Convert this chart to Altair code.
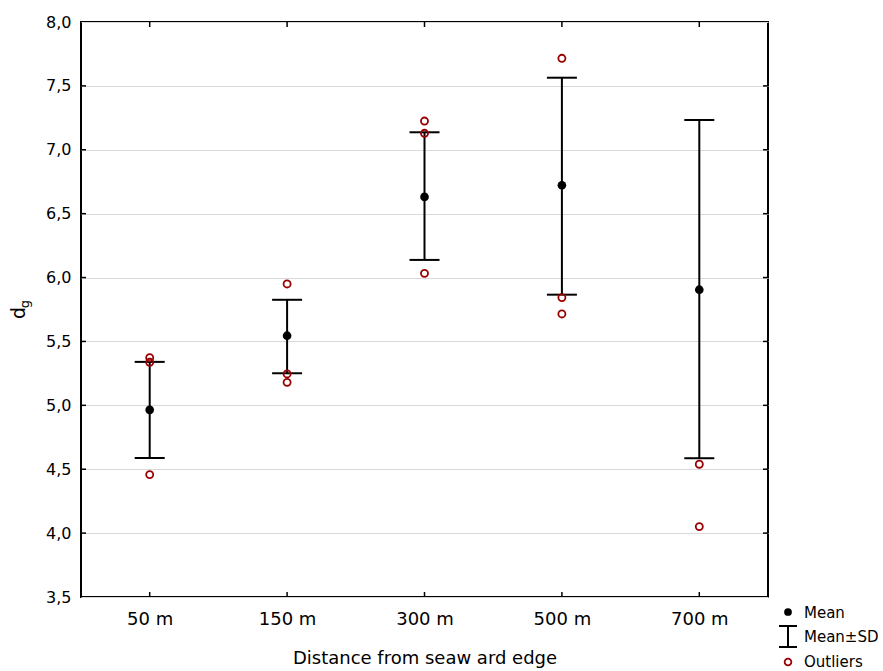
import altair as alt
import pandas as pd

categories = ["50 m", "150 m", "300 m", "500 m", "700 m"]
means = [4.964, 5.545, 6.631, 6.722, 5.905]
sd_upper = [5.340, 5.826, 7.137, 7.564, 7.233]
sd_lower = [4.588, 5.251, 6.138, 5.866, 4.586]

outlier_cat = ["50 m", "50 m", "50 m", "150 m", "150 m", "150 m",
               "300 m", "300 m", "300 m", "500 m", "500 m", "500 m",
               "700 m", "700 m"]
outlier_val = [5.373, 5.337, 4.458, 5.950, 5.246, 5.180,
               7.225, 7.129, 6.033, 7.716, 5.843, 5.715,
               4.539, 4.051]

y_ticks = [3.5, 4.0, 4.5, 5.0, 5.5, 6.0, 6.5, 7.0, 7.5, 8.0]

FONT = "DejaVu Sans"
W, H = 687, 575
RED = "#990000"

stats = pd.DataFrame({"dist": categories, "mean": means,
                      "upper": sd_upper, "lower": sd_lower})
outs = pd.DataFrame({"dist": outlier_cat, "value": outlier_val})
ytk = pd.DataFrame({"v": y_ticks[1:-1]})
xtk = pd.DataFrame({"dist": categories})
one = pd.DataFrame({"k": [0]})

xscale = alt.Scale(type="point", padding=0.5, domain=categories)
yscale = alt.Scale(domain=[3.5, 8.0], nice=False, zero=False)

xenc = alt.X("dist:N", scale=xscale, sort=categories,
             axis=alt.Axis(title="Distance from seaw ard edge", labelAngle=0,
                           labelFont=FONT, labelFontSize=18, labelColor="black",
                           tickSize=0, domain=False, grid=False, labelPadding=13,
                           titleFont=FONT, titleFontSize=18, titleFontWeight="normal",
                           titleColor="black", titlePadding=21))
yaxis = alt.Axis(title=None, values=y_ticks,
                 labelExpr="replace(format(datum.value, '.1f'), '.', ',')",
                 labelFont=FONT, labelFontSize=16, labelColor="black",
                 tickSize=0, domain=False, grid=True, gridColor="#d9d9d9",
                 gridWidth=1, labelPadding=10)

grid_base = alt.Chart(stats).mark_rule(opacity=0).encode(
    x=xenc, y=alt.Y("mean:Q", scale=yscale, axis=yaxis))

rules = alt.Chart(stats).mark_rule(color="black", strokeWidth=2).encode(
    x=alt.X("dist:N", scale=xscale, sort=categories),
    y=alt.Y("lower:Q", scale=yscale), y2="upper:Q")
cap_hi = alt.Chart(stats).mark_tick(color="black", size=30, thickness=2, opacity=1).encode(
    x=alt.X("dist:N", scale=xscale, sort=categories),
    y=alt.Y("upper:Q", scale=yscale))
cap_lo = alt.Chart(stats).mark_tick(color="black", size=30, thickness=2, opacity=1).encode(
    x=alt.X("dist:N", scale=xscale, sort=categories),
    y=alt.Y("lower:Q", scale=yscale))
mean_pts = alt.Chart(stats).mark_point(filled=True, color="black", size=75, opacity=1,
                                       shape="circle").encode(
    x=alt.X("dist:N", scale=xscale, sort=categories),
    y=alt.Y("mean:Q", scale=yscale))
out_pts = alt.Chart(outs).mark_point(filled=False, color=RED, size=50, strokeWidth=1.8,
                                     opacity=1, shape="circle").encode(
    x=alt.X("dist:N", scale=xscale, sort=categories),
    y=alt.Y("value:Q", scale=yscale))

# inward frame ticks
tl = alt.Chart(ytk).mark_rule(color="black", strokeWidth=1.5).encode(
    y=alt.Y("v:Q", scale=yscale), x=alt.value(0), x2=alt.value(5))
tr = alt.Chart(ytk).mark_rule(color="black", strokeWidth=1.5).encode(
    y=alt.Y("v:Q", scale=yscale), x=alt.value(W - 5), x2=alt.value(W))
tt = alt.Chart(xtk).mark_rule(color="black", strokeWidth=1.5).encode(
    x=alt.X("dist:N", scale=xscale, sort=categories), y=alt.value(0), y2=alt.value(5))
tb = alt.Chart(xtk).mark_rule(color="black", strokeWidth=1.5).encode(
    x=alt.X("dist:N", scale=xscale, sort=categories), y=alt.value(H - 5), y2=alt.value(H))

# y-axis title d_g
yt_d = alt.Chart(one).mark_text(text="d", angle=270, font=FONT, fontSize=19,
                                align="center", baseline="alphabetic", color="black").encode(
    x=alt.value(25 - 81), y=alt.value(313 - 22))
yt_g = alt.Chart(one).mark_text(text="g", angle=270, font=FONT, fontSize=13,
                                align="center", baseline="alphabetic", color="black").encode(
    x=alt.value(29 - 81), y=alt.value(304 - 22))

# legend
LX = 788 - 81
TX = 804 - 81
leg_mean = alt.Chart(one).mark_point(filled=True, color="black", size=60, opacity=1,
                                     shape="circle").encode(
    x=alt.value(LX), y=alt.value(612 - 22))
leg_sd_v = alt.Chart(one).mark_rule(color="black", strokeWidth=2).encode(
    x=alt.value(LX), y=alt.value(626 - 22), y2=alt.value(647 - 22))
leg_sd_t = alt.Chart(one).mark_rule(color="black", strokeWidth=2).encode(
    x=alt.value(LX - 9), x2=alt.value(LX + 9), y=alt.value(626 - 22))
leg_sd_b = alt.Chart(one).mark_rule(color="black", strokeWidth=2).encode(
    x=alt.value(LX - 9), x2=alt.value(LX + 9), y=alt.value(647 - 22))
leg_out = alt.Chart(one).mark_point(filled=False, color=RED, size=45, strokeWidth=1.8,
                                    opacity=1, shape="circle").encode(
    x=alt.value(LX), y=alt.value(662 - 22))
leg_txt = [
    alt.Chart(one).mark_text(text=t, font=FONT, fontSize=15, align="left",
                             baseline="middle", color="black").encode(
        x=alt.value(TX), y=alt.value(yy - 22))
    for t, yy in [("Mean", 613), ("Mean±SD", 637), ("Outliers", 662)]
]

chart = alt.layer(grid_base, rules, cap_hi, cap_lo, mean_pts, out_pts,
                  tl, tr, tt, tb, yt_d, yt_g,
                  leg_mean, leg_sd_v, leg_sd_t, leg_sd_b, leg_out, *leg_txt).properties(
    width=W, height=H,
    autosize=alt.AutoSizeParams(type="none"),
    padding={"left": 81, "top": 22, "right": 883 - 81 - W, "bottom": 671 - 22 - H},
    background="white",
).configure_view(stroke="black", strokeWidth=2)

chart.save("out.html", embed_options={"renderer": "svg", "actions": False})
